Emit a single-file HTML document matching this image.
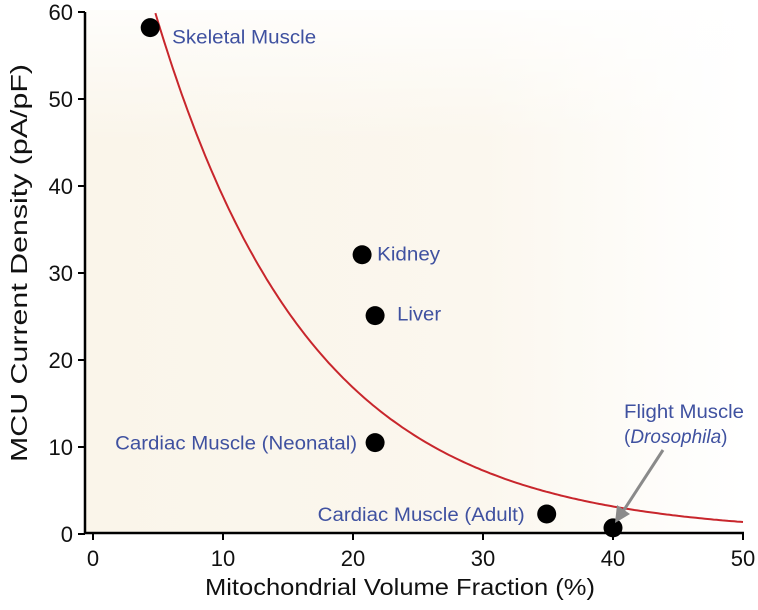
<!DOCTYPE html>
<html><head><meta charset="utf-8"><style>
body{margin:0;background:#fff;}
svg{display:block;font-family:"Liberation Sans",sans-serif;}
</style></head><body>
<svg id="chart" width="758" height="610">
<defs>
<linearGradient id="bgx" x1="0" y1="0" x2="1" y2="0">
<stop offset="0" stop-color="#faf5ea"/><stop offset="0.6" stop-color="#fbf7ee"/><stop offset="1" stop-color="#ffffff"/>
</linearGradient>
<linearGradient id="bgy" x1="0" y1="0" x2="0" y2="1">
<stop offset="0" stop-color="#ffffff" stop-opacity="0.8"/><stop offset="0.25" stop-color="#ffffff" stop-opacity="0"/>
</linearGradient>
</defs>
<rect x="86" y="10" width="658" height="523" fill="url(#bgx)"/>
<rect x="86" y="10" width="658" height="523" fill="url(#bgy)"/>
<g id="axes"></g>
<path id="fit" fill="none" stroke="#c8262c" stroke-width="2"/>
<g id="pts"></g>
<line x1="663" y1="450" x2="622" y2="513" stroke="#8a8a8a" stroke-width="3"/>
<polygon points="615,523 617,505 630,514" fill="#8a8a8a"/>
<text x="205" y="595" font-size="23" textLength="390" lengthAdjust="spacingAndGlyphs" fill="#111">Mitochondrial Volume Fraction (%)</text>
<text transform="translate(27,263) rotate(-90)" text-anchor="middle" font-size="23" textLength="398" lengthAdjust="spacingAndGlyphs" fill="#111">MCU Current Density (pA/pF)</text>
</svg>
<script>
const xTicks=[0,10,20,30,40,50];
const yTicks=[0,10,20,30,40,50,60];
const names=["Skeletal Muscle","Kidney","Liver","Cardiac Muscle (Neonatal)","Cardiac Muscle (Adult)","Flight Muscle"];
const xVals=[4.4,20.7,21.7,21.7,34.9,40];
const yVals=[58.2,32.1,25.1,10.5,2.3,0.7];
const fitA=89.4, fitK=0.0835, fitStart=4.8, fitEnd=50;
const X=v=>93+v*13, Y=v=>534-v*8.7;
const NS="http://www.w3.org/2000/svg";
function mk(tag,attrs,parent,text){const e=document.createElementNS(NS,tag);for(const k in attrs)e.setAttribute(k,attrs[k]);if(text!==undefined)e.textContent=text;parent.appendChild(e);return e;}
const ax=document.getElementById('axes');
let l=mk('line',{x1:85,y1:Y(60),x2:85,y2:534,stroke:'#000','stroke-width':2.5},ax);


l=mk('line',{x1:85,y1:533,x2:744,y2:533,stroke:'#000','stroke-width':2.5},ax);


yTicks.forEach(t=>{
 const tk=mk('line',{x1:78,y1:Y(t),x2:85,y2:Y(t),stroke:'#000','stroke-width':2},ax);
 
 
 const tx=mk('text',{x:73,y:Y(t)+8,'text-anchor':'end','font-size':22,fill:'#111'},ax,String(t));
 
 
});
xTicks.forEach(t=>{
 const tk=mk('line',{x1:X(t),y1:533,x2:X(t),y2:540,stroke:'#000','stroke-width':2},ax);
 
 
 const tx=mk('text',{x:X(t),y:566,'text-anchor':'middle','font-size':22,fill:'#111'},ax,String(t));
 
 
});
let d='';
for(let i=0;i<=200;i++){const x=fitStart+(fitEnd-fitStart)*i/200;d+=(i?'L':'M')+X(x).toFixed(1)+','+Y(fitA*Math.exp(-fitK*x)).toFixed(1);}
document.getElementById('fit').setAttribute('d',d);
const pts=document.getElementById('pts');
const lab=[[22,9,'start',144],[15,-1,'start',63],[22,-2,'start',44],[-18,0,'end',242],[-22,0,'end',207],null];
xVals.forEach((x,i)=>{
 const c=mk('circle',{cx:X(x),cy:Y(yVals[i]),r:9.5,fill:'#000'},pts);
 
 
 if(lab[i]){
  const t=mk('text',{x:X(x)+lab[i][0],y:Y(yVals[i])+lab[i][1]+7,'text-anchor':lab[i][2],'font-size':19,textLength:lab[i][3],lengthAdjust:'spacingAndGlyphs',fill:'#3f51a0'},pts,names[i]);
  
  
 }
});
const f1=mk('text',{x:624,y:418,'font-size':19,textLength:120,lengthAdjust:'spacingAndGlyphs',fill:'#3f51a0'},pts,'Flight Muscle');


const f2=mk('text',{x:624,y:443,'font-size':19,fill:'#3f51a0'},pts);


f2.innerHTML='(<tspan font-style="italic">Drosophila</tspan>)';
</script>
</body></html>
